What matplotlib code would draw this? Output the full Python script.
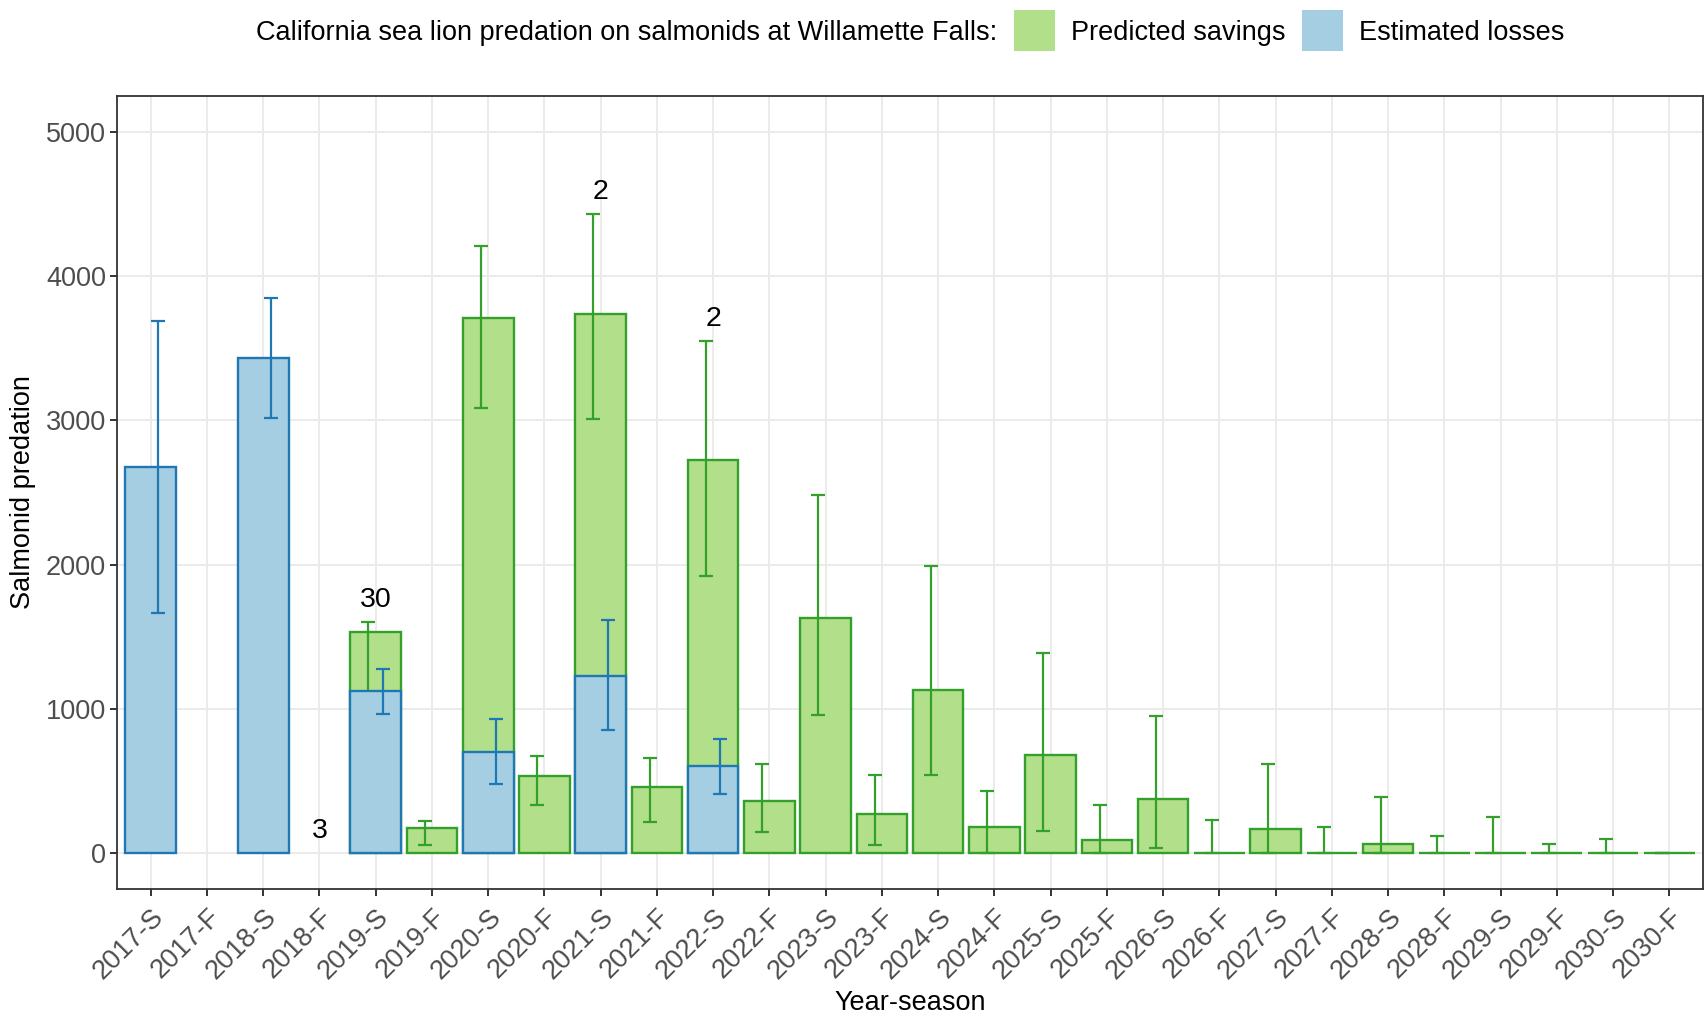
import numpy as np
import matplotlib
matplotlib.use("Agg")
import matplotlib.pyplot as plt
from matplotlib.patches import Rectangle

plt.rcParams['font.family'] = ['Liberation Sans', 'DejaVu Sans']

nan = np.nan

seasons = ['2017-S', '2017-F', '2018-S', '2018-F', '2019-S', '2019-F', '2020-S', '2020-F',
           '2021-S', '2021-F', '2022-S', '2022-F', '2023-S', '2023-F', '2024-S', '2024-F',
           '2025-S', '2025-F', '2026-S', '2026-F', '2027-S', '2027-F', '2028-S', '2028-F',
           '2029-S', '2029-F', '2030-S', '2030-F']

# Predicted savings (mean, lower, upper)
savings = np.array([nan, nan, nan, nan, 1532, 170, 3712, 535, 3737, 454, 2727, 357,
                    1631, 270, 1127, 177, 682, 92, 373, 0, 167, 0, 62, 0, 0, 0, 0, 0])
savings_lo = np.array([nan, nan, nan, nan, 1020, 55, 3088, 332, 3009, 214, 1919, 143,
                       956, 55, 541, 0, 152, 0, 37, 0, 0, 0, 0, 0, 0, 0, 0, 0])
savings_hi = np.array([nan, nan, nan, nan, 1601, 224, 4212, 673, 4434, 657, 3550, 620,
                       2483, 541, 1991, 433, 1389, 336, 947, 227, 618, 180, 391, 120,
                       248, 60, 95, 0])

# Estimated losses (mean, lower, upper)
losses = np.array([2674, nan, 3436, nan, 1124, nan, 703, nan, 1230, nan, 604, nan,
                   nan, nan, nan, nan, nan, nan, nan, nan, nan, nan, nan, nan, nan, nan, nan, nan])
losses_lo = np.array([1664, nan, 3016, nan, 965, nan, 479, nan, 853, nan, 410, nan,
                      nan, nan, nan, nan, nan, nan, nan, nan, nan, nan, nan, nan, nan, nan, nan, nan])
losses_hi = np.array([3691, nan, 3848, nan, 1274, nan, 931, nan, 1613, nan, 788, nan,
                      nan, nan, nan, nan, nan, nan, nan, nan, nan, nan, nan, nan, nan, nan, nan, nan])

# Count labels shown above selected seasons
count_seasons = ['2018-F', '2019-S', '2021-S', '2022-S']
count_labels = ['3', '30', '2', '2']

GREEN_FILL, GREEN_EDGE = '#B2DF8A', '#33A02C'
BLUE_FILL, BLUE_EDGE = '#A6CEE3', '#1F78B4'
FS = 19.5
W, H = 1705, 1018

fig = plt.figure(figsize=(W / 100, H / 100), dpi=100)
px_l, px_r, px_t, px_b = 117, 1703, 96, 889
ax = fig.add_axes([px_l / W, 1 - px_b / H, (px_r - px_l) / W, (px_b - px_t) / H])

x = np.arange(len(seasons))
bar_w = 0.9
dodge = 0.13
cap = 5.0

# Predicted savings bars and intervals
m = ~np.isnan(savings)
ax.bar(x[m], savings[m], width=bar_w, color=GREEN_FILL, edgecolor=GREEN_EDGE,
       linewidth=1.7, zorder=2)
ax.errorbar(x[m] - dodge, savings[m],
            yerr=[savings[m] - savings_lo[m], savings_hi[m] - savings[m]],
            fmt='none', ecolor=GREEN_EDGE, elinewidth=1.6, capsize=cap, capthick=1.6,
            zorder=3)

# Estimated losses bars and intervals
m = ~np.isnan(losses)
ax.bar(x[m], losses[m], width=bar_w, color=BLUE_FILL, edgecolor=BLUE_EDGE,
       linewidth=1.7, zorder=4)
ax.errorbar(x[m] + dodge, losses[m],
            yerr=[losses[m] - losses_lo[m], losses_hi[m] - losses[m]],
            fmt='none', ecolor=BLUE_EDGE, elinewidth=1.6, capsize=cap, capthick=1.6,
            zorder=5)

# Count labels above the highest interval of each season
top = np.fmax(np.nan_to_num(savings_hi, nan=0), np.nan_to_num(losses_hi, nan=0))
for s, lab in zip(count_seasons, count_labels):
    i = seasons.index(s)
    ax.text(i, top[i] + 150, lab, ha='center', va='center', fontsize=20.5,
            color='black', zorder=6)

ax.set_xlim(-0.6, len(seasons) - 0.4)
ax.set_ylim(-250, 5250)
ax.set_yticks([0, 1000, 2000, 3000, 4000, 5000])
ax.set_xticks(x)
ax.set_xticklabels(seasons, rotation=45, ha='right', va='top', rotation_mode='anchor')

ax.set_axisbelow(True)
ax.grid(True, color='#EBEBEB', linewidth=1.4)
for sp in ax.spines.values():
    sp.set_color('#333333')
    sp.set_linewidth(1.3)
ax.tick_params(axis='both', colors='#333333', labelcolor='#4D4D4D', labelsize=FS,
               length=5, width=1.4)
ax.tick_params(axis='x', pad=5.5)
ax.tick_params(axis='y', pad=3)

fig.text(23 / W, 1 - (px_t + px_b) / 2 / H, 'Salmonid predation', rotation=90,
         ha='center', va='center', fontsize=FS, color='black')
fig.text((px_l + px_r) / 2 / W, 15.4 / H, 'Year-season', ha='center', va='center',
         fontsize=FS, color='black')

# Legend row across the top, centred over the panel
renderer = fig.canvas.get_renderer()
title = 'California sea lion predation on salmonids at Willamette Falls:'
entries = [(GREEN_FILL, 'Predicted savings'), (BLUE_FILL, 'Estimated losses')]
ly = H - 30
key = 41
gap_title, gap_key, gap_entry = 17, 16, 16


def text_width(s):
    t = fig.text(0, 0, s, fontsize=FS)
    w = t.get_window_extent(renderer).width
    t.remove()
    return w


tw = text_width(title)
ew = [text_width(lab) for _, lab in entries]
total = tw + sum(gap_title if i == 0 else gap_entry for i in range(len(entries))) \
    + len(entries) * (key + gap_key) + sum(ew)
cx = (px_l + px_r) / 2 - total / 2
fig.text(cx / W, ly / H, title, ha='left', va='center_baseline', fontsize=FS,
         color='black')
cx += tw
for i, ((fc, lab), w) in enumerate(zip(entries, ew)):
    cx += gap_title if i == 0 else gap_entry
    fig.add_artist(Rectangle((cx / W, (ly - key / 2) / H), key / W, key / H,
                             transform=fig.transFigure, facecolor=fc, edgecolor='none'))
    cx += key + gap_key
    fig.text(cx / W, ly / H, lab, ha='left', va='center_baseline', fontsize=FS,
             color='black')
    cx += w

fig.savefig('out.png', dpi=100)
